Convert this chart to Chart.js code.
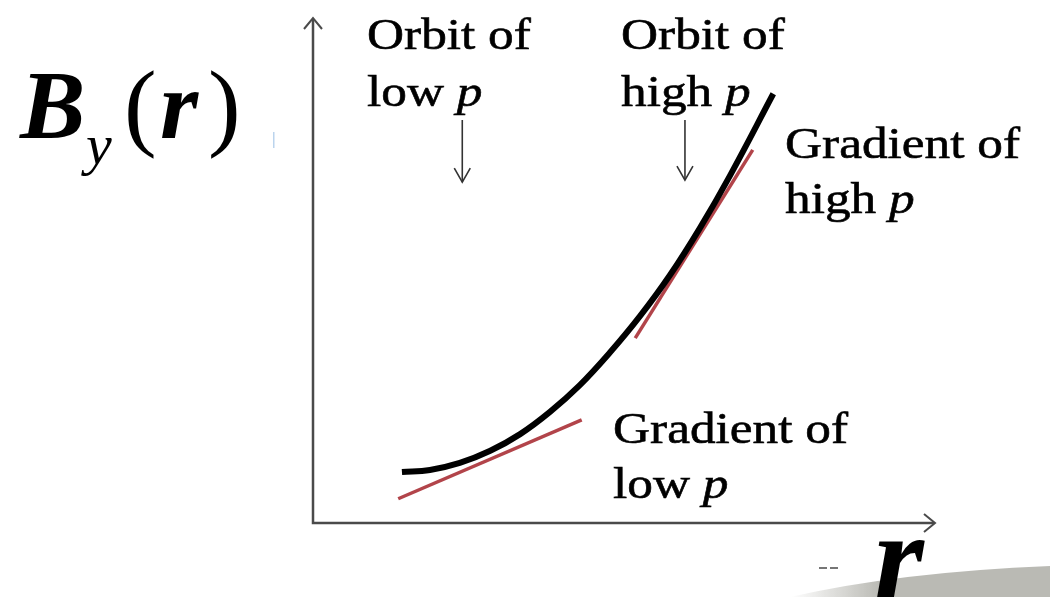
<!DOCTYPE html>
<html>
<head>
<meta charset="utf-8">
<script src="https://cdn.jsdelivr.net/npm/chart.js@4/dist/chart.umd.min.js"></script>
<style>
  html, body { margin: 0; padding: 0; background: #fff; }
  #wrap { width: 1050px; height: 597px; }
</style>
</head>
<body>
<div id="wrap"><canvas id="chart" width="1050" height="597"></canvas></div>
<script>
// B_y(r) curve, arbitrary units (r: 0..10, B: 0..10)
const curveR = [1.43, 1.88, 2.36, 2.85, 3.33, 3.81, 4.29, 4.77, 5.26, 5.74, 6.22, 6.70, 7.40];
const curveB = [1.01, 1.05, 1.19, 1.43, 1.76, 2.20, 2.73, 3.37, 4.10, 4.91, 5.84, 6.87, 8.50];

// tangent lines (gradients)
const lowTangentR = [1.37, 4.32];
const lowTangentB = [0.48, 2.04];
const highTangentR = [5.18, 7.07];
const highTangentB = [3.66, 7.39];

// orbit pointer arrows
const orbitR = [2.40, 5.98];
const orbitTopB = [7.98, 7.98];
const orbitTipB = [6.75, 6.79];

const toPoints = (xs, ys) => xs.map((x, i) => ({ x: x, y: ys[i] }));

const serif = '"Liberation Serif", "Times New Roman", serif';

// text pieces: [text, italic]
const labels = [
    { x: 367, y: 49, parts: [['Orbit of', false]] },
    { x: 367, y: 106, parts: [['low ', false], ['p', true]] },
    { x: 621, y: 49, parts: [['Orbit of', false]] },
    { x: 621, y: 106, parts: [['high ', false], ['p', true]] },
    { x: 785, y: 158, parts: [['Gradient of', false]] },
    { x: 785, y: 213, parts: [['high ', false], ['p', true]] },
    { x: 613, y: 443, parts: [['Gradient of', false]] },
    { x: 613, y: 498, parts: [['low ', false], ['p', true]] }
];

function drawArrowHead(ctx, x, y, dx, dy, len, half) {
    // open chevron pointing along (dx, dy)
    const px = -dy, py = dx;
    ctx.beginPath();
    ctx.moveTo(x - dx * len + px * half, y - dy * len + py * half);
    ctx.lineTo(x, y);
    ctx.lineTo(x - dx * len - px * half, y - dy * len - py * half);
    ctx.stroke();
}

const decor = {
    id: 'decor',
    beforeDraw(chart) {
        const ctx = chart.ctx;
        // grey swoosh bottom right
        ctx.save();
        const g = ctx.createLinearGradient(790, 0, 880, 0);
        g.addColorStop(0, 'rgba(188,188,182,0)');
        g.addColorStop(1, 'rgba(186,186,180,1)');
        ctx.fillStyle = g;
        ctx.beginPath();
        ctx.moveTo(790, 597);
        ctx.quadraticCurveTo(900, 572, 1050, 566);
        ctx.lineTo(1050, 597);
        ctx.closePath();
        ctx.fill();
        ctx.restore();
    },
    afterDatasetsDraw(chart) {
        const ctx = chart.ctx;
        const a = chart.chartArea;
        const xs = chart.scales.x, ys = chart.scales.y;
        ctx.save();

        // axes with arrows
        ctx.strokeStyle = '#4a4a4a';
        ctx.lineWidth = 2.5;
        ctx.beginPath();
        ctx.moveTo(a.left, a.top + 1);
        ctx.lineTo(a.left, a.bottom);
        ctx.lineTo(a.right - 1, a.bottom);
        ctx.stroke();
        ctx.lineWidth = 2;
        drawArrowHead(ctx, a.left, a.top, 0, -1, 11, 9);
        drawArrowHead(ctx, a.right, a.bottom, 1, 0, 11, 9);

        // orbit pointers
        ctx.strokeStyle = '#333';
        ctx.lineWidth = 1.6;
        orbitR.forEach((r, i) => {
            const x = xs.getPixelForValue(r);
            const y0 = ys.getPixelForValue(orbitTopB[i]);
            const y1 = ys.getPixelForValue(orbitTipB[i]);
            ctx.beginPath();
            ctx.moveTo(x, y0);
            ctx.lineTo(x, y1);
            ctx.stroke();
            drawArrowHead(ctx, x, y1, 0, 1, 14, 8);
        });

        // labels
        ctx.fillStyle = '#000';
        ctx.strokeStyle = '#000';
        ctx.lineWidth = 0.6;
        ctx.textBaseline = 'alphabetic';
        labels.forEach(l => {
            ctx.save();
            ctx.translate(l.x, l.y);
            ctx.scale(1.14, 1);
            let cx = 0;
            l.parts.forEach(([t, it]) => {
                ctx.font = (it ? 'italic ' : '') + '45px ' + serif;
                ctx.fillText(t, cx, 0);
                ctx.strokeText(t, cx, 0);
                cx += ctx.measureText(t).width;
            });
            ctx.restore();
        });

        // axis titles
        ctx.font = 'italic bold 98px ' + serif;
        ctx.fillText('B', 20, 138);
        ctx.font = 'italic 58px ' + serif;
        ctx.fillText('y', 86, 164);
        ctx.font = '98px ' + serif;
        ctx.fillText('(', 124, 138);
        ctx.font = 'italic bold 98px ' + serif;
        ctx.fillText('r', 160, 138);
        ctx.font = '98px ' + serif;
        ctx.fillText(')', 208, 138);

        ctx.font = 'italic bold 128px ' + serif;
        ctx.fillText('r', 874, 600);

        // faint marks
        ctx.fillStyle = 'rgba(120,170,220,0.5)';
        ctx.fillRect(273, 132, 1.5, 16);
        ctx.fillStyle = 'rgba(60,60,60,0.7)';
        ctx.fillRect(819, 567, 8, 2);
        ctx.fillRect(830, 567, 8, 2);

        ctx.restore();
    }
};

function build() {
    new Chart(document.getElementById('chart'), {
        type: 'line',
        data: {
            datasets: [
                {
                    data: toPoints(curveR, curveB),
                    borderColor: '#000',
                    borderWidth: 6,
                    pointRadius: 0,
                    tension: 0.4,
                    clip: false
                },
                {
                    data: toPoints(lowTangentR, lowTangentB),
                    borderColor: '#b2444a',
                    borderWidth: 3.5,
                    pointRadius: 0,
                    clip: false
                },
                {
                    data: toPoints(highTangentR, highTangentB),
                    borderColor: '#b2444a',
                    borderWidth: 3.5,
                    pointRadius: 0,
                    clip: false
                }
            ]
        },
        options: {
            responsive: false,
            animation: false,
            devicePixelRatio: 1,
            layout: {
                padding: { left: 313, top: 18, right: 115, bottom: 74 }
            },
            plugins: {
                legend: { display: false },
                tooltip: { enabled: false }
            },
            scales: {
                x: { type: 'linear', min: 0, max: 10, display: false },
                y: { type: 'linear', min: 0, max: 10, display: false }
            }
        },
        plugins: [decor]
    });
}

Promise.all([
    document.fonts.load('45px "Liberation Serif"'),
    document.fonts.load('italic 45px "Liberation Serif"'),
    document.fonts.load('italic bold 98px "Liberation Serif"')
]).catch(() => {}).then(build);
</script>
</body>
</html>
